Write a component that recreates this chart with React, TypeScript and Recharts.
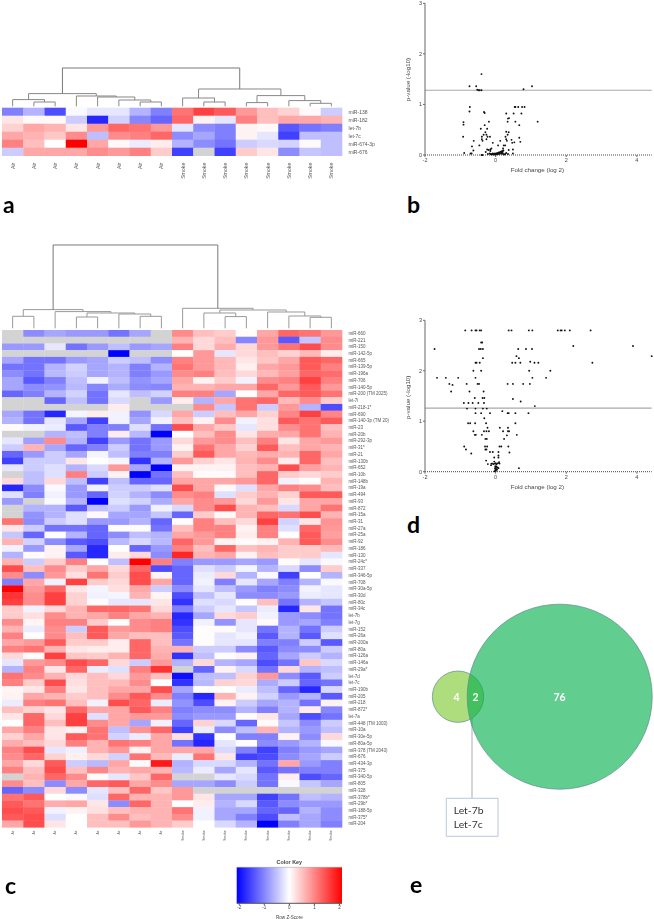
import React from 'react';
import {
  Area,
  AreaChart,
  ReferenceArea,
  ReferenceLine,
  Scatter,
  ScatterChart,
  XAxis,
  YAxis,
} from 'recharts';

const N = null;

// panel a
const smokeOnlyRows = ['miR-138', 'miR-182', 'let-7b', 'let-7c', 'miR-674-3p', 'miR-676'];
const smokeOnlyColumns = ['Air', 'Air', 'Air', 'Air', 'Air', 'Air', 'Air', 'Air', 'Smoke', 'Smoke', 'Smoke', 'Smoke', 'Smoke', 'Smoke', 'Smoke', 'Smoke'];
const smokeOnlyValues = [
  [-1, -0.6, -1.4, -0.05, -0.2, -0.2, -0.6, -1, 1.1, 1.5, 1.3, 0.8, 0.5, 0.35, 0.05, -0.4],
  [0.2, 0.05, 0.05, -0.4, -1.7, -0.35, -0.95, -1.2, 1.2, 0.1, -0.2, 1, 0.5, 0.7, 0.7, 0.6],
  [0.35, 0.7, 0.6, 0.2, 0.8, 1.2, 1.1, 0.8, -0.2, -0.9, -1, 0.1, 0.05, -1.3, -1.1, -1],
  [0.7, 0.6, 0.45, 0.9, -0.5, 0.9, 1, 1.2, -0.9, -0.7, -1, 0.1, -0.2, -1.5, -0.5, -0.5],
  [1, 0.5, 0, 2, 0.7, 0.05, -0.15, 0.15, -0.6, -0.9, -1.1, -0.4, -0.3, -0.35, 0.03, -0.5],
  [-0.4, 0.7, 0.7, 0.7, 0.9, 0.8, 1, 0.4, -1.5, N, -1.5, 0.4, 0.2, -0.9, -0.45, -0.5],
];
// [left, right, height], negative = leaf, positive = earlier merge
const smokeOnlyMerges = [
  [-2, -3, 4.3], [-1, 1, 6.7], [-7, -8, 4.3], [-6, 3, 6.3], [-5, 4, 9.3], [-4, 5, 10.3], [2, 6, 12.7],
  [-10, -11, 4.3], [-9, 8, 8.3], [-12, -13, 3.7], [-15, -16, 3], [-14, 11, 5.7], [10, 12, 10.7], [9, 13, 17.3], [7, 14, 38.3],
];

// panel b
const volcanoB = [
  [-0.4, 1.6], [-0.74, 1.36], [-0.55, 1.36], [1.03, 1.36], [0.79, 1.3], [-0.52, 1.29], [-0.48, 1.28], [-0.45, 1.28], [-0.4, 1.28],
  [-0.73, 0.95], [-0.74, 0.86], [-0.33, 0.85], [-0.31, 0.83], [0.3, 0.82], [0.54, 0.95], [0.56, 0.95], [0.64, 0.95], [0.75, 0.95], [0.82, 0.95],
  [0.51, 0.82], [0.73, 0.82], [0.38, 0.73], [0.35, 0.72], [-0.19, 0.66], [0.34, 0.66], [0.56, 0.66], [1.19, 0.66], [-0.91, 0.65], [-0.91, 0.6],
  [-0.31, 0.59], [0.67, 0.59], [-0.42, 0.52], [-0.24, 0.52], [0.3, 0.46], [0.37, 0.45], [-0.29, 0.45], [0.34, 0.4], [-0.34, 0.4], [-0.26, 0.4],
  [-0.92, 0.36], [-0.39, 0.36], [-0.23, 0.36], [0.28, 0.36], [-0.16, 0.36], [0.67, 0.34], [-0.39, 0.31], [-0.26, 0.31], [0.3, 0.31], [0.32, 0.28],
  [0.45, 0.3], [-0.62, 0.28], [-0.37, 0.28], [0.53, 0.25], [0.47, 0.24], [0.7, 0.26], [-0.08, 0.24], [-0.46, 0.19], [-0.67, 0.17], [0.07, 0.19],
  [0.23, 0.19], [0.27, 0.19], [0.13, 0.28], [0.49, 0.11], [0.37, 0.1], [-0.63, 0.09], [-0.24, 0.11], [-0.15, 0.11], [-0.12, 0.13], [0.21, 0.13],
  [-0.89, 0.04], [-0.71, 0.03], [-0.68, 0.03], [0.49, 0.03], [-0.4, 0], [-0.37, 0],
  [-0.22, 0.02], [-0.17, 0.03], [-0.14, 0.02], [-0.12, 0.01], [-0.1, 0.02], [-0.08, 0.03], [-0.07, 0.01], [-0.05, 0.02], [-0.03, 0.01], [-0.02, 0.03],
  [0, 0.02], [0.01, 0.01], [0.02, 0.03], [0.03, 0.02], [0.05, 0.04], [0.06, 0.02], [0.08, 0.03], [0.09, 0.05], [0.1, 0.02], [0.12, 0.04], [0.13, 0.06],
  [0.15, 0.03], [0.16, 0.07], [0.17, 0.05], [0.18, 0.03], [0.19, 0.08], [0.2, 0.06], [0.21, 0.02], [0.22, 0.09], [0.24, 0.01], [0.27, 0.02], [0.3, 0.04],
  [0.35, 0.02], [-0.2, 0.1], [-0.15, 0.08], [-0.28, 0.06],
];

// panel c
const fullRows = [
  'miR-660', 'miR-221', 'miR-150', 'miR-142-5p', 'miR-665', 'miR-139-5p', 'miR-196a', 'miR-706', 'miR-140-5p', 'miR-200 (TM 2025)',
  'let-7i', 'miR-218-1*', 'miR-690', 'miR-140-3p (TM 20)', 'miR-23', 'miR-20b', 'miR-292-3p', 'miR-31*', 'miR-21', 'miR-130b',
  'miR-652', 'miR-10b', 'miR-148b', 'miR-19a', 'miR-494', 'miR-93', 'miR-872', 'miR-15a', 'miR-31', 'miR-27a',
  'miR-25a', 'miR-92', 'miR-186', 'miR-130', 'miR-24c*', 'miR-337', 'miR-346-5p', 'miR-708', 'miR-30a-5p', 'miR-30d',
  'miR-80c', 'miR-34c', 'let-7b', 'let-7g', 'miR-152', 'miR-26a', 'miR-200a', 'miR-80a', 'miR-126a', 'miR-146a',
  'miR-29a*', 'let-7d', 'let-7c', 'miR-190b', 'miR-205', 'miR-218', 'miR-872*', 'let-7a', 'miR-448 (TM 1003)', 'miR-10a',
  'miR-30e-5p', 'miR-80a-5p', 'miR-378 (TM 2043)', 'miR-676', 'miR-434-3p', 'miR-375', 'miR-340-5p', 'miR-805', 'miR-328', 'miR-378b*',
  'miR-29b*', 'miR-188-5p', 'miR-375*', 'miR-204',
];
const fullColumns = smokeOnlyColumns;
const fullValues = [
  [N, -0.9, -0.7, -0.8, -0.8, -1.1, -0.7, N, 0.9, 0.5, 0.4, 0.02, 0.7, 1.2, 1.1, 0.8],
  [N, N, N, N, N, N, N, N, 0.6, 0.3, 0.5, -0.95, 0.8, -1.3, -0.45, 0.9],
  [-0.8, -0.8, -0.2, -1.1, -0.8, -0.5, -0.8, -0.7, 1, 0.3, 0.65, 0.3, 0.8, 1.1, 1.4, 0.9],
  [N, N, N, N, N, -2, N, N, 0, 0.8, -0.2, 0.3, 0.5, 0.35, 0.55, 0.15],
  [-0.7, -1.1, -1.1, -0.8, -0.7, -0.4, -0.5, -0.9, 1, 0.8, 0.55, 0.2, 0.45, 0.7, 1.3, 1.2],
  [-1.1, -1.1, -0.6, -0.35, -0.7, -0.6, -1, -0.6, 1.1, 0.8, 0.55, 0.12, 0.7, 0.8, 1.3, 1],
  [-0.9, -1.1, -0.55, -0.4, -0.7, -0.6, -1, -0.8, 0.9, 1, 0.5, 0.3, 0.55, 0.75, 1.2, 1.15],
  [-0.7, -1.3, -1, -0.5, -0.1, -0.5, -0.85, -0.7, 0.7, 0.1, 0.4, -0.1, 0.9, 1, 1.5, 1],
  [-0.7, -0.9, -0.85, -0.55, -0.95, -0.65, -0.9, -0.95, 0.6, 0.6, 0.7, 0.7, 1.2, 0.8, 1.3, 0.8],
  [-1.2, -1, -0.6, -0.35, -1.1, -0.2, -0.5, -0.35, 1, 1, -0.7, 0, 0.7, 1.2, 1.3, 1.1],
  [N, N, -1.2, -0.5, -1.1, -0.3, N, -0.8, 0.15, -0.6, 0.7, 1.1, 1.2, 0.55, 0.9, 0.4],
  [N, N, N, N, N, 0.15, N, N, N, 0.9, -0.45, 1.1, -0.4, 0.8, -0.6, -1.4],
  [-0.7, -1.1, -1.7, -0.08, 0.15, -0.1, -0.85, -0.3, 0.7, -0.4, 0.5, 0.7, 0.35, 0.95, 1.5, 0.95],
  [-0.6, -1.1, -0.2, -0.7, -1.5, -0.1, -0.7, -0.1, 0.5, 0.1, 0.9, -0.1, 0.25, 1.3, 1.1, 1.3],
  [0.03, -0.1, -0.15, -1.3, -1, -1, -0.25, -1.1, 1.4, 0.7, 0.45, -0.2, 0.25, 0.9, 1.1, 0.5],
  [N, N, -0.6, -0.5, -1, 0.15, -0.55, -2, 0, 0.5, 0.9, 0.2, 0.65, 0.7, 1.1, 0.6],
  [-0.2, -0.75, 0.9, -0.6, -1.5, -0.8, -1.1, -0.8, 0.3, 0.8, 0.9, 0.5, 1, 0.2, 0.7, 0.8],
  [-0.4, 0.6, -0.7, -1.2, -1, -0.4, -1.1, -0.8, 0.1, 1.1, 0.7, 0.35, 1.3, 0.5, 0.7, 0.6],
  [-1.2, -0.8, -0.4, -0.7, -0.08, -0.5, -1, -1, 0.4, 1.3, 0.7, 0.55, 0.65, 0.6, 1.2, 0.7],
  [-1.5, -0.4, -0.4, 0.2, 0, -0.08, -1.6, -0.6, 0.8, 0.35, 0.2, 0.6, 0.9, 0.15, 1.2, 0.5],
  [-0.2, -0.4, -0.25, -0.6, -0.3, 0.8, -0.7, -2, 0.1, 0.1, 0.1, 0.5, 0.6, 1.4, 0.75, 0.6],
  [N, -0.5, -0.25, 1, -0.4, 0.1, -2, -1.1, 0.5, 0.03, 0.03, 0.5, 1.2, 0.4, 0.3, 0.4],
  [0.3, -0.5, 0.3, -0.5, -1.5, -0.5, -1.2, -1.2, 0.7, 0.7, 0.7, 0.8, 1.2, -0.1, 0.02, 0.6],
  [-1.7, -0.9, -0.05, -0.8, -0.1, -0.4, -0.4, -0.25, 1.4, 0.7, 0.04, -0.25, 0.7, 1, 0.9, 0.5],
  [-0.25, -1, -0.1, -0.8, -1.2, -0.35, -0.6, -0.9, 0.9, 1, -0.25, 0.4, 0.6, 0.35, 1.3, 1.3],
  [-0.8, N, -0.05, -0.6, -2, -0.25, -0.35, -0.65, 0.7, 0.9, 0.8, 0.3, 0.8, 0.2, 0.7, 0.7],
  [N, -0.6, -0.6, -1.3, -0.5, -0.4, -0.8, -0.1, -0.3, 0.9, 1.4, 0.6, 0.5, -0.3, 0.7, 1.1],
  [N, -0.85, -0.6, -0.25, 0.05, -0.7, -0.7, -0.45, -1.2, 0.4, 0.05, 0.6, 1.2, 1.1, 1.4, 0.6],
  [1.1, -0.9, -0.4, -0.25, -0.8, -0.8, -0.6, -1.2, 0.02, 1, 0.5, 0.3, 1.5, -0.35, 0.2, 0.85],
  [0.2, -0.4, -1.1, -1.1, -1.2, 0.02, 0.02, -1.1, 0.5, 1, 1, 0.1, 1, -0.25, 1.2, 0.8],
  [-0.45, -1.2, 0.02, -0.6, -1.2, -0.9, -0.5, -0.6, 0.7, 0.8, 1, 0.15, 1, 0, 1.3, 0.75],
  [0.6, -0.35, -0.9, -1.3, -1.4, -0.55, -0.3, -0.55, 1.2, 0.8, 0.1, 0.03, 0.1, 0.6, 1.3, 0.9],
  [-0.1, -0.8, 0.1, -0.7, -1.7, 0, -1.2, -0.8, 1, 0.5, 1.2, 0.5, 0.6, 0.4, 0.4, 0.55],
  [-0.6, 0.03, 0.1, -1.3, -1.7, 0.15, 0.3, -0.9, 1.7, 0.6, 0.7, 0.1, 0.5, 0.4, 0.4, -0.2],
  [0.6, -0.4, 0.4, 1, 0, -0.5, 2, 1, -1, -0.8, -0.8, -0.7, -0.8, 0.02, -0.2, -0.05],
  [1.4, 0.5, 0.9, 0.4, 0.7, 0.3, 1.2, -1.4, -1.2, -0.25, -0.4, -0.08, -0.6, -0.3, -0.9, 0.4],
  [0.9, -0.9, 0.8, 0.25, 1.1, 0.4, 1.4, 0.08, -1.2, -0.15, 0.3, -0.6, -0.05, -1.5, 0, -0.6],
  [-1, 0.7, -0.1, 1.5, 0.4, 0.3, 1.4, 0.7, -1.2, -0.1, -1, -0.2, -0.7, -1, -0.6, -0.05],
  [2, 0.8, 1.2, 0.2, -0.08, 0.25, 0.7, -0.4, -0.9, -0.2, -0.5, -0.8, -1, -0.9, -0.1, -0.2],
  [1.6, 0.9, 1.5, 0.35, -0.1, -0.08, 0.6, 0.08, -1.4, -0.5, -0.2, -0.9, -0.9, -0.8, -0.15, -0.2],
  [1.5, 0.9, 1.5, 0.35, 0.03, -0.2, -0.2, 0.2, -1.6, -0.25, -0.3, 0.02, 0.5, -1.1, -0.6, -0.45],
  [0.4, -0.1, 0.3, 0.6, 1.2, 1.2, 1.1, 0.3, -1, -0.4, -0.2, -0.45, -0.15, -1.7, 0.2, -1.1],
  [0.4, 0.25, 0.9, 0.6, 0.7, 1, 0.7, 0.6, -1.7, -0.7, 0.3, 0.4, -0.1, -0.8, -0.9, -1.1],
  [0.9, 0.08, 1, 1, 0.4, 0.02, 0.9, 1, -1.6, -0.1, -0.85, -0.2, 0.05, -0.8, -0.7, -1],
  [0.6, -0.15, 0.9, -0.4, 1.3, 0.8, 0.9, 1, -1.4, 0.02, 0.03, -0.2, -1.1, -0.6, -1.1, -0.4],
  [1, 0, 0.9, 0.5, 1.3, 0.7, 0.5, 0.5, -1.3, 0.02, -0.2, -0.1, -1.3, -0.6, -1.3, -0.25],
  [0.7, 0.8, 1.3, 0.4, 0.4, 0.15, 1.2, 0.5, -1.1, 0.02, -0.2, -0.2, -1, -1, -0.4, -1.3],
  [1, 1.1, 0.6, 0.2, 0.15, 0.15, 1.2, 0.6, 0.6, -0.4, -0.4, -0.9, -1.3, -0.9, -0.9, -0.4],
  [0.3, 0.02, 1.5, 0.45, 0.4, 0.6, 1.2, 0.65, -1.6, -0.5, 0.02, 0.1, -1.2, -0.7, -0.4, -0.6],
  [-0.2, 0.8, 0.9, 1.4, 1.2, 0.3, -0.4, 0.8, -0.6, 0.3, -0.6, -0.7, -1.4, -1.1, 0.45, -0.3],
  [-0.6, 1, 0.2, 1.2, -0.15, -0.25, 1, 1.6, N, -1.2, 0.1, -0.3, -1.1, 0.3, -0.6, -0.5],
  [1.1, 0.9, 0.6, 0.3, 0.5, 0.3, 0.8, 0.5, -1.9, -0.5, -0.5, 0.35, 0.8, -0.9, -1.3, -0.4],
  [1, 0.4, 1.4, 0.25, 0.5, 0.55, 0.9, 0, -1.6, -0.55, 0.35, 0.3, -0.65, -0.4, -1.2, -1.1],
  [0.08, 0.2, 1, 0.2, 0.5, 0.7, 0.7, 1.4, -0.7, 0, 0, -0.15, -0.5, -1.2, -1.7, -0.3],
  [0.1, 0.7, 0.6, 0.4, 0.5, 0.9, 1.3, 0.9, -1, -1.7, 0.6, 0.1, -0.35, -0.8, -0.6, -1.3],
  [-0.15, 1, 1.1, 0.5, -0.1, 1.4, 1.2, -0.15, -0.85, -1.4, 0.1, -0.4, -0.7, -0.6, -1.1, 0.1],
  [0.5, 0.35, 0.2, 1.2, 0.7, 0.7, 1.3, 1, -1, -0.9, -0.9, -0.6, -1, -0.6, 0.15, -0.95],
  [0.2, 1.2, 0.3, 1.5, -0.25, 0.7, 0.8, 0.8, -0.9, -0.8, -0.8, 0.03, 0.2, -0.7, -1.4, -1.1],
  [0, 1.2, 0.5, 1.5, 0.9, 0.7, -0.7, -0.1, -1.2, 0.35, -0.3, -1.2, 0.03, -0.45, -0.9, -0.4],
  [0.7, 1, 0.2, 0.1, 1.1, -0.5, 0.85, 1.2, -1.5, -0.15, -0.9, -0.5, 0.6, -0.6, -0.8, -0.5],
  [0.35, 0.7, 0.2, 1.3, 1.1, -0.35, -0.15, 0.7, 0.25, -1.6, 0, -1, -1, 0.1, -0.9, 0.3],
  [0.65, 0.5, 0.3, 1, 0.6, 1.1, 1, 0.7, -1.1, -1.7, -0.2, 0.02, -0.9, -0.8, -0.6, -0.05],
  [1, 1.4, -0.2, -0.12, 0.6, 0.8, 0.1, 0.7, 0.7, 0.7, -0.3, -1, -1.5, -1, -0.8, -0.7],
  [0.9, 1.2, 0.35, 0.12, 0.3, -0.35, 1.1, 0.55, -0.15, 1.1, 0.2, -1.5, -1.4, -0.9, -0.7, -0.4],
  [0.7, 0.3, 1.3, -0.4, -0.55, 0.7, 0.05, 1.8, -0.6, -0.3, -0.3, -0.6, -1.1, 0.7, -0.8, -1],
  [1, 0.5, 1.4, 0.5, 0.95, 0.6, 0.7, 0.6, -0.55, -0.15, -0.7, -0.2, -1.3, -1.1, -1, -1],
  [N, 0.6, 1.2, 0.9, 0.03, -0.2, 0.45, 1.2, N, N, -0.2, -0.3, -1.1, 0.15, -1.4, -1.2],
  [0.9, 0.5, -0.9, 0.7, 1.2, 1.3, 0.7, 0.9, -0.7, -0.7, -0.9, -0.4, -1.1, -0.05, -0.45, -0.7],
  [-1.2, -0.9, 0.3, -0.9, -0.2, 0.5, 1.2, 0.45, 0.8, N, N, N, N, N, N, N],
  [1.1, 1.3, 0, -0.05, -0.25, 1.2, 0.6, 0.6, 0.8, 0.2, -0.7, -0.7, -1.5, -1.1, -0.5, -0.6],
  [1.3, 1.1, 0.65, 0.7, 0.2, -0.9, 1.2, 0.6, 0, 0.15, -0.6, -0.3, -1.3, -0.9, -0.8, -0.8],
  [1.4, 1.3, -0.1, 0.1, 0.25, 0.5, 0.6, 0.6, 1.1, -0.1, -0.7, -0.7, -1.2, -1.2, -0.6, -0.9],
  [1.3, 1.4, -0.25, 0, 0.5, 0.9, 0.5, 0.6, 0.9, -0.1, -0.7, -1, -1.4, -0.5, -0.7, -0.9],
  [0.7, 1.4, 0.2, 0, 0.5, 0.5, 0.8, 0.6, 0.4, 0, -0.3, -0.6, -2, -1, -0.7, -1],
];
const fullMerges = [
  [-1, -2, 12], [-4, -5, 11.3], [-7, -8, 12], [-6, 3, 14.3], [2, 4, 15.3], [-3, 5, 16.7], [1, 6, 18.7],
  [-11, -12, 11.7], [-10, 8, 15.3], [-15, -16, 11], [-14, 10, 12.3], [-13, 11, 16.3], [9, 12, 18.3], [-9, 13, 20], [7, 14, 83.3],
];

// panel d
const volcanoD = [
  [-0.86, 2.8], [-0.68, 2.8], [-0.57, 2.8], [-0.54, 2.8], [-0.45, 2.8], [-0.41, 2.8], [0.37, 2.8], [0.45, 2.8], [0.94, 2.8], [1.04, 2.8],
  [1.76, 2.8], [1.84, 2.8], [1.87, 2.8], [1.96, 2.8], [2.1, 2.8], [2.69, 2.8], [-0.41, 2.56], [-0.38, 2.56], [-1.73, 2.43], [-0.47, 2.43],
  [-0.42, 2.43], [-0.36, 2.43], [0.64, 2.43], [0.86, 2.43], [1.03, 2.43], [2.2, 2.49], [3.89, 2.49], [4.42, 2.29], [0.59, 2.29], [0.66, 2.25],
  [-0.36, 2.25], [-0.57, 2.16], [-0.54, 2.16], [-0.45, 2.16], [0.47, 2.16], [0.56, 2.16], [0.7, 2.16], [0.98, 2.18], [1.1, 2.16], [1.21, 2.16],
  [2.74, 2.16], [-0.63, 2], [-0.41, 2], [0.95, 2], [1.55, 2], [-1.66, 1.86], [-1.41, 1.86], [-1.06, 1.86], [-0.57, 1.86], [1.04, 1.86], [1.43, 1.86],
  [-1.31, 1.74], [-1.22, 1.72], [-0.82, 1.74], [-0.51, 1.74], [-0.47, 1.74], [0.34, 1.74], [0.49, 1.74], [0.78, 1.74], [0.97, 1.74],
  [-1.26, 1.59], [-0.74, 1.59], [-0.34, 1.59], [-0.59, 1.46], [-0.37, 1.46], [-0.32, 1.46], [0.49, 1.44], [0.71, 1.39],
  [-0.9, 1.36], [-0.77, 1.36], [-0.65, 1.36], [-0.49, 1.36], [-0.33, 1.36], [1.11, 1.3], [-0.81, 1.25], [-0.57, 1.25], [-0.36, 1.25], [-0.25, 1.25],
  [0.19, 1.2], [-0.57, 1.16], [-0.41, 1.16], [-0.16, 1.16], [0.34, 1.16], [0.37, 1.16], [0.56, 1.16], [0.93, 1.16], [-0.32, 1.06],
  [-0.78, 0.96], [-0.72, 0.96], [-0.58, 0.96], [-0.27, 0.96], [0.56, 0.96], [-0.23, 0.87], [0.12, 0.87], [0.35, 0.87],
  [-0.63, 0.8], [-0.33, 0.8], [-0.26, 0.8], [-0.19, 0.8], [0.21, 0.8], [0.35, 0.8], [0.38, 0.8], [-0.59, 0.73], [-0.56, 0.73], [-0.39, 0.73], [0.32, 0.72], [0.6, 0.73],
  [-0.29, 0.65], [-0.25, 0.65], [0.24, 0.65], [-0.89, 0.5], [-0.3, 0.5], [-0.24, 0.5], [0.11, 0.5], [0.16, 0.5], [0.36, 0.5],
  [-0.84, 0.44], [-0.29, 0.44], [-0.26, 0.44], [-0.69, 0.36], [-0.16, 0.39], [-0.08, 0.39], [0.08, 0.39], [0.39, 0.38],
  [-0.04, 0.28], [0.08, 0.32], [0.08, 0.28], [-0.27, 0.22], [-0.22, 0.15], [0.66, 0.07],
  [-0.12, 0.16], [-0.09, 0.16], [-0.06, 0.15], [-0.02, 0.16], [0, 0.17], [0.02, 0.14], [0.04, 0.16], [0.07, 0.17], [0.1, 0.19], [-0.01, 0.11],
  [0.01, 0.09], [0.03, 0.1], [0.06, 0.08], [0.08, 0.07], [-0.02, 0.07], [0, 0.06], [0.02, 0.05], [0.04, 0.04], [-0.01, 0.03], [0.01, 0.02],
  [-0.03, 0.01], [-0.13, 0.13], [0.11, 0.16], [-0.04, 0.2],
];

// panel e
const vennSets = [
  { label: '4', total: 6, x: 48, y: 106.7, textX: 46.5, fill: '#aedd7e', opacity: 1 },
  { label: '76', total: 78, x: 149.7, y: 106.7, textX: 149.5, fill: '#00ae4a', opacity: 0.62 },
];
const vennOverlapCount = '2';
const vennOverlapNames = ['Let-7b', 'Let-7c'];

const keyTicks = [-2, -1, 0, 1, 2];
const keyRange = [{ z: -2.1, level: 1 }, { z: 2.1, level: 1 }];
const pValueTicks = [0, 1, 2, 3];
const foldTicks = [-2, 0, 2, 4];
const FONT = '"Liberation Sans", Arial, sans-serif';

const zColor = (z: number | null) => {
  if (z === null) return '#d3d3d3';
  const t = Math.min(Math.abs(z) / 2, 1);
  const c = Math.round(255 * (1 - t));
  return z > 0 ? `rgb(255,${c},${c})` : `rgb(${c},${c},255)`;
};

const NoMark = () => null;

const Dendrogram = ({ merges, left, bottom, width, color }: any) => {
  const chartH = Math.max(...merges.map((m: number[]) => m[2])) + 2;
  // each merge: node position comes from its two children
  const nodes: { x: number; h: number }[] = [];
  const at = (id: number) => (id < 0 ? { x: -id - 0.5, h: 0 } : nodes[id - 1]);
  const links = merges.map(([a, b, h]: number[]) => {
    const A = at(a);
    const B = at(b);
    nodes.push({ x: (A.x + B.x) / 2, h });
    return [
      { x: A.x, y: A.h },
      { x: A.x, y: h },
      { x: B.x, y: h },
      { x: B.x, y: B.h },
    ];
  });
  return (
    <div style={{ position: 'absolute', left, top: bottom - chartH }}>
      <ScatterChart width={width} height={chartH} margin={{ top: 0, right: 0, bottom: 0, left: 0 }}>
        <XAxis type="number" dataKey="x" domain={[0, 16]} hide />
        <YAxis type="number" dataKey="y" domain={[0, chartH]} hide />
        {links.map((link: any, i: number) => (
          <Scatter
            key={i}
            data={link}
            isAnimationActive={false}
            shape={NoMark}
            line={{ stroke: i === links.length - 1 ? '#777' : color, strokeWidth: 1 }}
          />
        ))}
      </ScatterChart>
    </div>
  );
};

const Heatmap = ({ rows, columns, values, left, top, plotW, plotH, width, height, marginTop, rowFont, colFont, colGap }: any) => {
  const cellW = plotW / columns.length;
  const cellH = plotH / rows.length;
  const cells = values.flatMap((row: (number | null)[], r: number) =>
    row.map((value, c) => ({ x: c + 0.5, y: r + 0.5, value })),
  );
  const Cell = (p: any) => (
    <rect x={p.cx - cellW / 2} y={p.cy - cellH / 2} width={cellW + 0.3} height={cellH + 0.3} fill={zColor(p.payload.value)} />
  );
  // plain text here, the axis' own tick text wraps long names
  const ColumnTick = ({ x, y, payload }: any) => (
    <text
      x={x}
      y={y + colGap}
      transform={`rotate(-90 ${x} ${y + colGap})`}
      textAnchor="end"
      dominantBaseline="central"
      fontSize={colFont}
      fill="#555"
      fontFamily={FONT}
    >
      {columns[Math.floor(payload.value)]}
    </text>
  );
  const RowTick = ({ x, y, payload }: any) => (
    <text x={x + 6.6} y={y} dominantBaseline="central" fontSize={rowFont} fill="#555" fontFamily={FONT}>
      {rows[Math.floor(payload.value)]}
    </text>
  );
  return (
    <div style={{ position: 'absolute', left, top }}>
      <ScatterChart width={width} height={height} margin={{ top: marginTop, right: 0, bottom: 0, left: 0 }}>
        <XAxis
          type="number"
          dataKey="x"
          domain={[0, columns.length]}
          ticks={columns.map((_: string, i: number) => i + 0.5)}
          interval={0}
          height={height - plotH - marginTop}
          axisLine={false}
          tickLine={false}
          tickSize={0}
          tickMargin={0}
          tick={ColumnTick}
        />
        <YAxis
          type="number"
          dataKey="y"
          orientation="right"
          reversed
          domain={[0, rows.length]}
          ticks={rows.map((_: string, i: number) => i + 0.5)}
          interval={0}
          width={width - plotW}
          axisLine={false}
          tickLine={false}
          tickSize={0}
          tickMargin={0}
          tick={RowTick}
        />
        <Scatter data={cells} isAnimationActive={false} shape={Cell} />
      </ScatterChart>
    </div>
  );
};

const Dot = (p: any) => <circle cx={p.cx} cy={p.cy} r={0.95} fill="#111" />;

const Volcano = ({ points, threshold, top, marginTop, height, labelShift }: any) => (
  <div style={{ position: 'absolute', left: 395, top }}>
    <ScatterChart width={259} height={height} margin={{ top: marginTop, right: 2.3, bottom: 0, left: 0 }}>
      <XAxis
        type="number"
        dataKey="x"
        domain={[-2, 4.42]}
        ticks={foldTicks}
        height={25}
        tickSize={2}
        tickMargin={1}
        stroke="#666"
        axisLine={{ stroke: '#444', strokeDasharray: '1 1' }}
        tick={{ fontSize: 5.5, fill: '#444', fontFamily: FONT }}
        label={{ value: 'Fold change (log 2)', position: 'insideBottom', offset: 8, fontSize: 6.2, fill: '#444', fontFamily: FONT, dx: -1 }}
      />
      <YAxis
        type="number"
        dataKey="y"
        domain={[0, 3]}
        ticks={pValueTicks}
        width={30}
        tickSize={2}
        tickMargin={1}
        stroke="#666"
        tick={{ fontSize: 5.5, fill: '#444', fontFamily: FONT }}
        label={{ value: 'p-value (-log10)', angle: -90, position: 'insideLeft', offset: 13, fontSize: 6.2, fill: '#444', fontFamily: FONT, dy: labelShift }}
      />
      <ReferenceLine y={threshold} stroke="#a8a8a8" strokeWidth={1.1} />
      <Scatter data={points.map(([x, y]: number[]) => ({ x, y }))} isAnimationActive={false} shape={Dot} />
    </ScatterChart>
  </div>
);

const VennSet = (p: any) => (
  <circle cx={p.cx} cy={p.cy} r={10.27 * Math.sqrt(p.payload.total) * 1.02} fill={p.payload.fill} fillOpacity={p.payload.opacity} stroke="#5f8c8c" strokeWidth={0.7} />
);
const VennText = (p: any) => (
  <text x={p.cx} y={p.cy} textAnchor={p.payload.anchor || 'middle'} dominantBaseline="central" fontSize={p.payload.size} fontWeight={p.payload.weight} fill={p.payload.color} fontFamily="Lato">
    {p.payload.label}
  </text>
);

const Venn = () => {
  const whiteLabels = [
    ...vennSets.map((s) => ({ x: s.textX, y: s.y, label: s.label, size: 10.5, weight: 700, color: '#fff' })),
    { x: 65.5, y: 106.7, label: vennOverlapCount, size: 10.5, weight: 700, color: '#fff' },
  ];
  const nameLabels = vennOverlapNames.map((label, i) => ({
    x: 43.7, y: 219.5 + i * 14.2, label, size: 10.4, weight: 400, color: '#333', anchor: 'start',
  }));
  return (
    <div style={{ position: 'absolute', left: 410, top: 590 }}>
      <ScatterChart width={244} height={320} margin={{ top: 0, right: 0, bottom: 0, left: 0 }}>
        <XAxis type="number" dataKey="x" domain={[0, 244]} hide />
        <YAxis type="number" dataKey="y" domain={[0, 320]} reversed hide />
        <Scatter data={[vennSets[0]]} isAnimationActive={false} shape={VennSet} />
        <Scatter data={[vennSets[1]]} isAnimationActive={false} shape={VennSet} />
        <ReferenceLine segment={[{ x: 62, y: 119 }, { x: 62, y: 208.3 }]} stroke="#c8c8c8" strokeWidth={1.5} />
        <ReferenceArea x1={36.3} x2={88} y1={208.3} y2={246.3} fill="#fff" fillOpacity={1} stroke="#a9b7d4" strokeWidth={0.8} />
        <Scatter data={whiteLabels} isAnimationActive={false} shape={VennText} />
        <Scatter data={nameLabels} isAnimationActive={false} shape={VennText} />
      </ScatterChart>
    </div>
  );
};

const ColorKey = () => (
  <div style={{ position: 'absolute', left: 220, top: 855 }}>
    <AreaChart width={122} height={64} data={keyRange} margin={{ top: 12.3, right: 0, bottom: 0, left: 16.7 }}>
      <defs>
        <linearGradient id="keyScale" x1="0" y1="0" x2="1" y2="0">
          <stop offset="0%" stopColor="#0000ff" />
          <stop offset="50%" stopColor="#ffffff" />
          <stop offset="100%" stopColor="#ff0000" />
        </linearGradient>
      </defs>
      <XAxis
        type="number"
        dataKey="z"
        domain={[-2.1, 2.1]}
        ticks={keyTicks}
        height={15.7}
        tickSize={2}
        tickMargin={1}
        stroke="#555"
        tick={{ fontSize: 4.5, fill: '#444', fontFamily: FONT }}
        label={{ value: 'Row Z-Score', position: 'insideBottom', offset: 0, fontSize: 4.6, fill: '#444', fontFamily: FONT }}
      />
      <YAxis type="number" domain={[0, 1]} hide />
      <Area dataKey="level" type="linear" fill="url(#keyScale)" fillOpacity={1} stroke="#999" strokeWidth={0.5} isAnimationActive={false} dot={false} activeDot={false} />
      <text x={69.3} y={9} textAnchor="middle" fontSize={5.4} fontWeight={700} fill="#444" fontFamily={FONT}>Color Key</text>
    </AreaChart>
  </div>
);

const panelLetters = [
  { text: 'a', x: 3, y: 190 },
  { text: 'b', x: 407, y: 190 },
  { text: 'c', x: 5, y: 871 },
  { text: 'd', x: 407, y: 510 },
  { text: 'e', x: 410, y: 870 },
];

export default function App() {
  return (
    <div style={{ position: 'absolute', left: 0, top: 0, width: 654, height: 919, overflow: 'hidden', background: '#fff' }}>
      <div style={{ filter: 'blur(0.35px)' }}>
        <Dendrogram merges={smokeOnlyMerges} left={1.67} bottom={106.7} width={340} color="#888" />
        <Heatmap rows={smokeOnlyRows} columns={smokeOnlyColumns} values={smokeOnlyValues} left={1.67} top={100} plotW={340} plotH={48} width={380} height={90} marginTop={7.7} rowFont={5} colFont={5.2} colGap={7} />
        <Volcano points={volcanoB} threshold={1.28} top={0} marginTop={3.3} height={180} labelShift={22} />
        <Dendrogram merges={fullMerges} left={1.67} bottom={328.7} width={340} color="#999" />
        <Heatmap rows={fullRows} columns={fullColumns} values={fullValues} left={1.67} top={320} plotW={340} plotH={497.3} width={392} height={525} marginTop={10} rowFont={4.5} colFont={3.4} colGap={3} />
        <Volcano points={volcanoD} threshold={1.26} top={310} marginTop={10.3} height={186.7} labelShift={23} />
        <ColorKey />
        <Venn />
      </div>
      {panelLetters.map((l) => (
        <div key={l.text} style={{ position: 'absolute', left: l.x, top: l.y, font: '700 23px/29px Lato', color: '#000' }}>
          {l.text}
        </div>
      ))}
    </div>
  );
}
